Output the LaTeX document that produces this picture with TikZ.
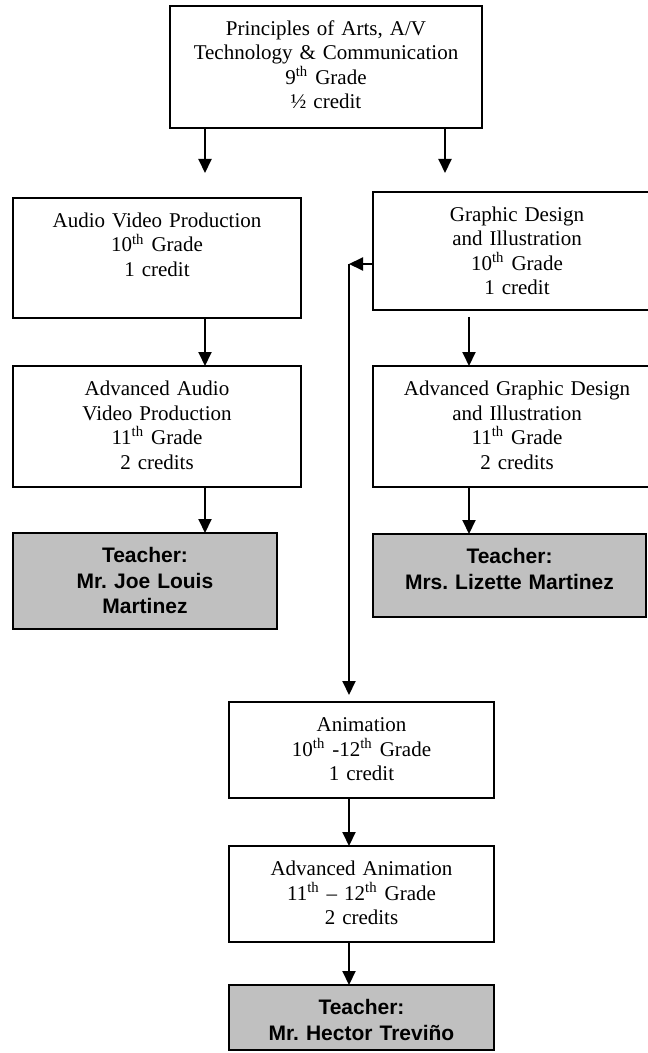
\documentclass[tikz,border=0pt]{standalone}
\usepackage{fontspec}
\setmainfont{Liberation Serif}
\setsansfont{Liberation Sans}
\usetikzlibrary{arrows.meta, positioning}
\definecolor{teachergray}{RGB}{192,192,192}
\tikzset{
  course/.style={rectangle, draw, line width=1pt, inner xsep=0pt, inner ysep=0pt, outer sep=0pt, align=center, text height=14.75pt, font=\fontsize{10.5pt}{12.25pt}\selectfont},
  teacher/.style={course, fill=teachergray, font=\sffamily\bfseries\fontsize{10.5pt}{12.75pt}\selectfont},
  arrow/.style={-{Triangle[length=7pt, width=6.5pt]}, line width=1pt}
}
\frenchspacing

\begin{document}
\begin{tikzpicture}[x=0.5pt, y=0.5pt, node distance=24pt]
  \path[use as bounding box, fill=white] (0,0) rectangle (647,-1053);
  % Nodes
  \node[course, anchor=north, text width=156pt, text depth=46.25pt] (principles) at (326,-6) {Principles of Arts, A/V\\Technology \& Communication\\9\textsuperscript{th} Grade\\½ credit};
  \node[course, anchor=north, text width=144pt, text depth=45.25pt] (audio) at (157,-198) {Audio Video Production\\10\textsuperscript{th} Grade\\1 credit};
  \node[course, below=of audio, text width=144pt, text depth=45.75pt] (advaudio) {Advanced Audio\\Video Production\\11\textsuperscript{th} Grade\\2 credits};
  \node[teacher, below right=23pt and 0pt of advaudio.south west, text width=132pt, text depth=33.25pt] (joe) {Teacher:\\Mr. Joe Louis\\Martinez};
  \node[course, anchor=north, text width=144pt, text depth=44.25pt] (graphic) at (517,-192) {Graphic Design\\and Illustration\\10\textsuperscript{th} Grade\\1 credit};
  \node[course, below=28pt of graphic, text width=144pt, text depth=45.75pt] (advgraphic) {Advanced Graphic Design\\and Illustration\\11\textsuperscript{th} Grade\\2 credits};
  \node[teacher, below right=23.5pt and 0pt of advgraphic.south west, text width=136.5pt, text depth=26.75pt] (lizette) {Teacher:\\Mrs. Lizette Martinez};
  \node[course, anchor=north, text width=132.5pt, text depth=33.25pt] (animation) at (361.5,-702) {Animation\\10\textsuperscript{th} -12\textsuperscript{th} Grade\\1 credit};
  \node[course, below=of animation, text width=132.5pt, text depth=33.25pt] (advanimation) {Advanced Animation\\11\textsuperscript{th} – 12\textsuperscript{th} Grade\\2 credits};
  \node[teacher, below=21.5pt of advanimation, text width=132.5pt, text depth=17.75pt] (hector) {Teacher:\\Mr. Hector Treviño};

  % Connections
  \draw[arrow, shorten >=12.5pt] ([xshift=24pt]audio.north |- principles.south) -- ([xshift=24pt]audio.north);
  \draw[arrow, shorten >=9.5pt] ([xshift=-36pt]graphic.north |- principles.south) -- ([xshift=-36pt]graphic.north);
  \draw[arrow] ([xshift=24pt]audio.south) -- ([xshift=24pt]advaudio.north);
  \draw[arrow] ([xshift=24pt]advaudio.south) -- ([xshift=24pt]advaudio.south |- joe.north);
  \draw[arrow, shorten <=3.5pt] ([xshift=-24pt]graphic.south) -- ([xshift=-24pt]advgraphic.north);
  \draw[arrow] ([xshift=-24pt]advgraphic.south) -- ([xshift=-24pt]advgraphic.south |- lizette.north);
  \draw[arrow] ([yshift=-6.5pt]graphic.west) -- ++(-24,0) coordinate (split);
  \draw[arrow, shorten >=3.5pt] (split) -- (split |- animation.north);
  \draw[arrow] ([xshift=-6.25pt]animation.south) -- ([xshift=-6.25pt]advanimation.north);
  \draw[arrow] ([xshift=-6.25pt]advanimation.south) -- ([xshift=-6.25pt]hector.north);
\end{tikzpicture}
\end{document}
